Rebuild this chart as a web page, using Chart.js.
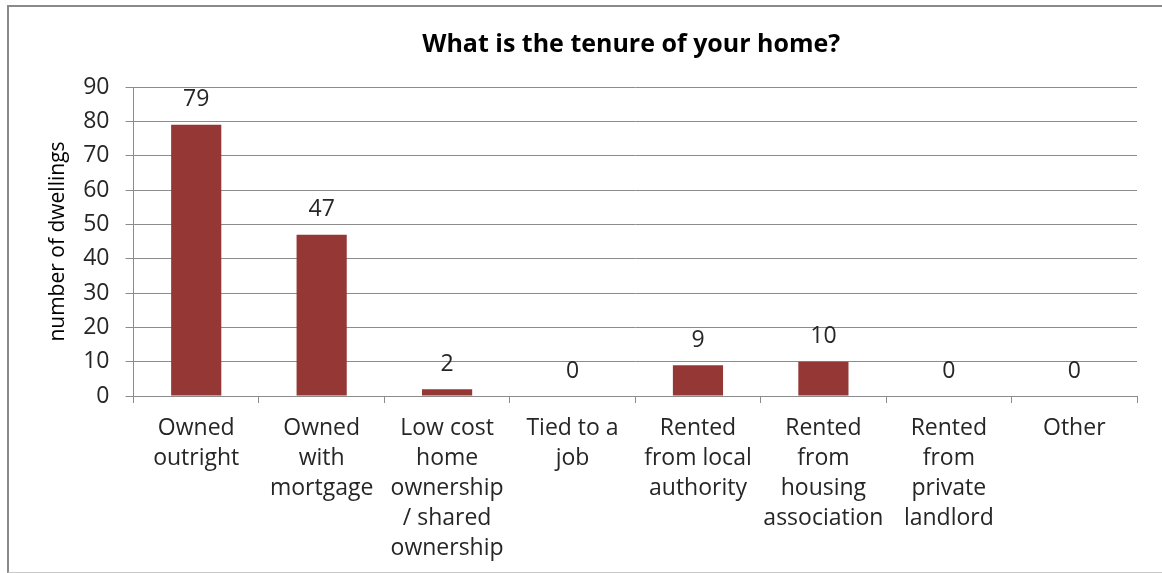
<!DOCTYPE html>
<html>
<head>
<meta charset="utf-8">
<script src="https://cdn.jsdelivr.net/npm/chart.js@4/dist/chart.umd.min.js"></script>
<style>
  html, body { margin: 0; padding: 0; background: #fff; overflow: hidden; }
  #wrap { position: relative; width: 1162px; height: 573px; overflow: hidden; }
  #frame { position: absolute; left: 7px; top: 5px; right: -5px; height: 565px;
           border-left: 2px solid #8a8a8a; border-top: 2px solid #8a8a8a; border-bottom: 1px solid #c8c8c8; }
  canvas { position: absolute; left: 0; top: 0; }
</style>
</head>
<body>
<div id="wrap">
  <div id="frame"></div>
  <canvas id="c" width="1162" height="576"></canvas>
</div>
<script>
const chartTitle = "What is the tenure of your home?";
const yAxisTitle = "number of dwellings";
const categories = [
  ["Owned", "outright"],
  ["Owned", "with", "mortgage"],
  ["Low cost", "home", "ownership", "/ shared", "ownership"],
  ["Tied to a", "job"],
  ["Rented", "from local", "authority"],
  ["Rented", "from", "housing", "association"],
  ["Rented", "from", "private", "landlord"],
  ["Other"]
];
const dwellings = [79, 47, 2, 0, 9, 10, 0, 0];
const yMin = 0, yMax = 90, yStep = 10;

const FONT = "'Open Sans', sans-serif";
const TEXT = "#262626";

const titlePlugin = {
  id: 'centerTitle',
  afterDraw(chart) {
    const ctx = chart.ctx, a = chart.chartArea;
    ctx.save();
    ctx.font = "bold 25px " + FONT;
    ctx.fillStyle = "#000";
    ctx.textAlign = "center";
    ctx.textBaseline = "middle";
    ctx.fillText(chartTitle, (a.left + a.right) / 2 - 4, 45);
    ctx.restore();
  }
};

const valueLabels = {
  id: 'valueLabels',
  afterDatasetsDraw(chart) {
    const ctx = chart.ctx;
    const meta = chart.getDatasetMeta(0);
    ctx.save();
    ctx.font = "23px " + FONT;
    ctx.fillStyle = TEXT;
    ctx.textAlign = "center";
    ctx.textBaseline = "middle";
    meta.data.forEach((bar, i) => {
      ctx.fillText(String(dwellings[i]), bar.x, bar.y - 25);
    });
    ctx.restore();
  }
};

new Chart(document.getElementById('c'), {
  type: 'bar',
  data: {
    labels: categories,
    datasets: [{
      data: dwellings,
      backgroundColor: '#953735',
      borderWidth: 0,
      categoryPercentage: 1.0,
      barPercentage: 0.4
    }]
  },
  options: {
    responsive: false,
    animation: false,
    layout: { padding: { top: 87, right: 25, bottom: 3, left: 45 } },
    plugins: {
      legend: { display: false },
      tooltip: { enabled: false },
      title: { display: false }
    },
    scales: {
      x: {
        grid: { offset: true, drawOnChartArea: false, drawTicks: true, tickLength: 7, color: '#8c8c8c', lineWidth: 1 },
        border: { color: '#8c8c8c', width: 1 },
        ticks: { font: { family: FONT, size: 23, lineHeight: 1.304 }, color: TEXT, padding: 10, maxRotation: 0, autoSkip: false }
      },
      y: {
        min: yMin, max: yMax,
        grid: { color: '#8c8c8c', lineWidth: 1, tickLength: 8 },
        border: { color: '#8c8c8c', width: 1 },
        ticks: { stepSize: yStep, font: { family: FONT, size: 23 }, color: TEXT, padding: 16 },
        title: { display: true, text: yAxisTitle, font: { family: FONT, size: 21 }, color: '#000', padding: { top: 0, bottom: -3 } }
      }
    }
  },
  plugins: [titlePlugin, valueLabels]
});
</script>
</body>
</html>
